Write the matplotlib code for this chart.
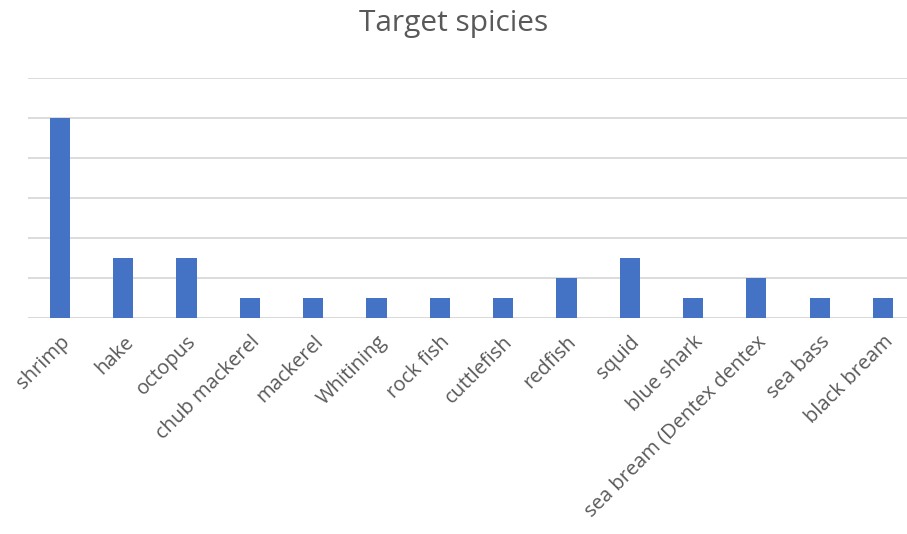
import matplotlib
matplotlib.use("Agg")
import matplotlib.pyplot as plt

categories = ["shrimp", "hake", "octopus", "chub mackerel", "mackerel", "Whitining",
              "rock fish", "cuttlefish", "redfish", "squid", "blue shark",
              "sea bream (Dentex dentex", "sea bass", "black bream"]
values = [10, 3, 3, 1, 1, 1, 1, 1, 2, 3, 1, 2, 1, 1]

plt.rcParams['font.family'] = ['Open Sans', 'DejaVu Sans']

fig = plt.figure(figsize=(9.07, 5.34), dpi=100)
ax = fig.add_axes([28/907, 1 - 318/534, (907-28)/907, 240/534])

x = list(range(len(categories)))
ax.bar(x, values, width=0.32, color="#4472C4", zorder=3)
ax.set_xlim(-0.505, 13.38)
ax.set_ylim(0, 12)
ax.set_yticks(range(0, 13, 2))
ax.set_yticklabels([])
ax.tick_params(axis='y', length=0)
ax.grid(axis='y', color="#D9D9D9", linewidth=1.3, zorder=0)
for s in ["top", "right", "left", "bottom"]:
    ax.spines[s].set_visible(False)
ax.axhline(0, color="#D9D9D9", linewidth=1.3, zorder=1)
ax.set_xticks(x)
ax.set_xticklabels(categories, rotation=45, ha='right', rotation_mode='anchor',
                   fontsize=14.5, color="#595959")
ax.tick_params(axis='x', length=0, pad=10)

fig.text(0.5, 1 - 23/534, "Target spicies", ha='center', va='center',
         fontsize=21.5, color="#595959")

fig.savefig("out.png", dpi=100)
